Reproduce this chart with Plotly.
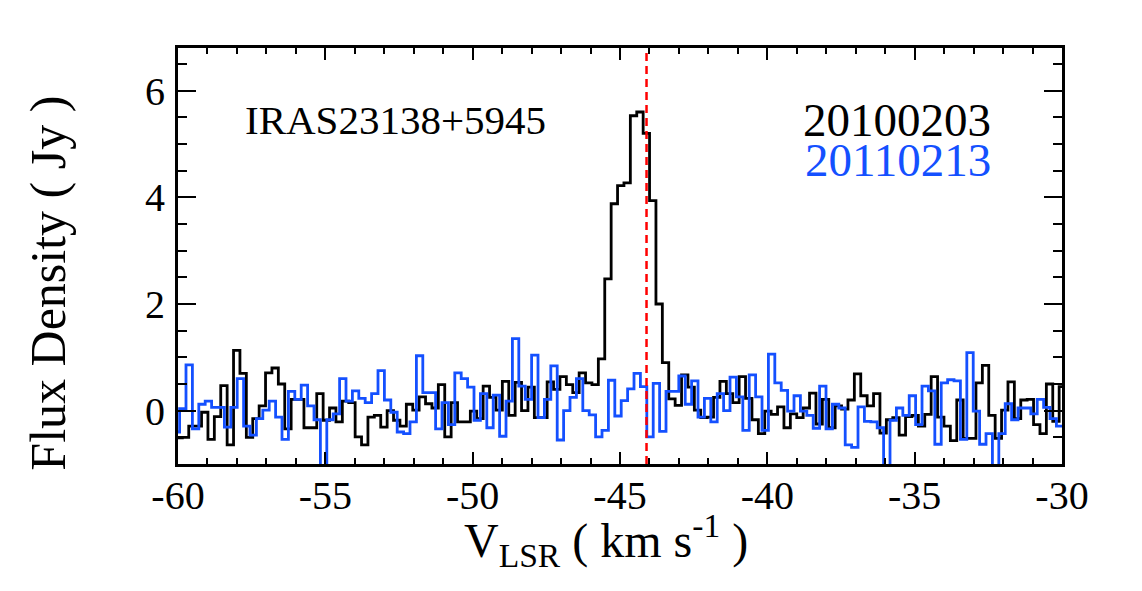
import numpy as np
from plotly import graph_objects as go

FONT_FAMILY = 'Liberation Serif, Times New Roman, serif'

# channel grid of the two spectra (km/s)
DV = 0.2172
V0_2010 = -60.07
V0_2011 = -60.163
V_SOURCE = -44.1

X_TICKS = [-60, -55, -50, -45, -40, -35, -30]
X_LABELS = ['-60', '-55', '-50', '-45', '-40', '-35', '-30']
Y_TICKS = [0, 2, 4, 6]

# 20100203 (black) flux density per channel, Jy
flux_2010 = [
    -0.51, -0.50, -0.29, -0.29, -0.03, -0.54, -0.11, 0.47, -0.64, 1.13,
    0.70, -0.50, -0.15, 0.09, 0.71, 0.80, 0.50, -0.34, 0.21, 0.21,
    -0.32, -0.32, 0.32, -0.18, 0.05, -0.21, 0.18, 0.15, -0.49, -0.64,
    -0.12, -0.09, -0.31, 0.00, -0.18, -0.29, 0.12, 0.01, 0.26, 0.13,
    0.05, 0.49, -0.49, 0.15, -0.21, -0.21, -0.01, -0.15, 0.46, 0.25,
    0.01, 0.55, -0.09, 0.53, 0.00, 0.44, -0.13, -0.13, 0.54, 0.40,
    0.64, 0.49, 0.34, 0.71, 0.52, 0.49, 0.97, 2.47, 3.88, 4.22,
    4.27, 5.53, 5.60, 5.20, 3.94, 2.00, 0.90, 0.22, 0.10, 0.67,
    0.44, 0.01, -0.13, -0.12, 0.25, 0.55, 0.32, 0.15, 0.64, 0.23,
    -0.17, -0.43, -0.01, -0.07, 0.07, -0.32, -0.06, -0.13, 0.05, 0.33,
    -0.25, 0.21, -0.32, 0.09, 0.03, 0.20, 0.69, 0.28, 0.09, 0.32,
    -0.42, -0.17, -0.13, -0.46, -0.11, -0.09, -0.29, -0.07, 0.64, -0.12,
    -0.29, -0.56, 0.20, -0.52, -0.52, 0.52, 0.85, -0.09, -0.52, 0.01,
    0.54, -0.15, 0.20, 0.21, -0.26, -0.43, 0.50, -0.20, 0.45,
]

# 20110213 (blue) flux density per channel, Jy
flux_2011 = [
    -0.40, 0.04, 0.86, -0.34, 0.12, 0.18, 0.06, 0.06, -0.31, 0.06,
    0.60, -0.29, -0.46, -0.15, 0.01, 0.18, -0.12, -0.54, 0.36, 0.21,
    0.48, 0.09, -0.17, -1.30, -0.17, -0.06, 0.60, 0.18, 0.37, 0.23,
    0.15, 0.32, 0.75, 0.20, -0.03, -0.40, -0.43, -0.21, 1.03, 0.34,
    0.34, -0.34, 0.15, -0.26, 0.71, 0.60, 0.44, -0.18, 0.32, -0.32,
    0.29, -0.48, 0.18, 1.35, 0.46, 0.21, 1.04, -0.13, 0.21, 0.84,
    -0.55, 0.00, 0.25, 0.60, 0.00, -0.08, -0.49, -0.37, 0.57, -0.10,
    0.19, 0.41, 0.70, 0.45, -0.49, 0.51, -0.39, 0.36, 0.36, 0.65,
    0.12, 0.56, -0.12, 0.23, -0.21, 0.32, 0.00, 0.63, 0.26, -0.37,
    0.67, 0.26, -0.37, 1.06, 0.52, 0.38, -0.01, 0.28, -0.01, -0.09,
    -0.33, 0.46, -0.34, 0.12, 0.05, -0.64, -0.69, 0.07, -0.20, -0.21,
    -0.32, -1.20, -0.18, 0.05, -0.09, 0.28, -0.26, 0.46, 0.37, -0.63,
    0.52, 0.58, 0.56, -0.54, 1.09, -0.01, -0.63, -0.43, -1.20, -0.43,
    0.13, -0.17, 0.05, 0.05, -0.06, 0.21, 0.06, -0.15, -0.29,
]

BLUE = '#1450ff'


def histo(v0, vals):
    # left channel edges + closing edge, drawn with hv steps
    edges = v0 + DV * np.arange(len(vals) + 1)
    return edges, list(vals) + [vals[-1]]


fig = go.Figure()

x, y = histo(V0_2010, flux_2010)
fig.add_trace(go.Scatter(x=x, y=y, mode='lines', line=dict(shape='hv', color='black', width=2.8),
                         name='20100203'))

x, y = histo(V0_2011, flux_2011)
fig.add_trace(go.Scatter(x=x, y=y, mode='lines', line=dict(shape='hv', color=BLUE, width=2.8),
                         name='20110213'))

fig.add_shape(type='line', x0=V_SOURCE, x1=V_SOURCE, y0=0, y1=1, yref='paper',
              line=dict(color='red', width=2.5, dash='8px,5px'))

axis_style = dict(
    showline=True, linecolor='black', linewidth=3, mirror='ticks',
    ticks='inside', tickcolor='black', tickwidth=2,
    showgrid=False, zeroline=False,
    tickfont=dict(family=FONT_FAMILY, size=40, color='black'),
)

fig.update_xaxes(range=[-60, -30], tickvals=X_TICKS, ticktext=X_LABELS, ticklen=12,
                 ticklabelstandoff=-6,
                 minor=dict(dtick=1, ticks='inside', ticklen=6, tickwidth=2, tickcolor='black'),
                 **axis_style)
fig.update_yaxes(range=[-1, 6.8], tickvals=Y_TICKS, ticklen=18, ticklabelstandoff=2,
                 minor=dict(dtick=0.5, tick0=0, ticks='inside', ticklen=9, tickwidth=2, tickcolor='black'),
                 **axis_style)

fig.add_annotation(x=-57.79, y=5.45, text='IRAS23138+5945', showarrow=False,
                   xanchor='left', yanchor='middle',
                   font=dict(family=FONT_FAMILY, size=41, color='black'))
fig.add_annotation(x=-32.34, y=5.45, text='20100203', showarrow=False,
                   xanchor='right', yanchor='middle',
                   font=dict(family=FONT_FAMILY, size=47, color='black'))
fig.add_annotation(x=-32.34, y=4.70, text='20110213', showarrow=False,
                   xanchor='right', yanchor='middle',
                   font=dict(family=FONT_FAMILY, size=47, color=BLUE))

fig.add_annotation(x=-0.1475, y=0.435, xref='paper', yref='paper', text='Flux Density ( Jy )',
                   textangle=-90, showarrow=False, xanchor='center', yanchor='middle',
                   font=dict(family=FONT_FAMILY, size=50, color='black'))
fig.add_annotation(x=0.484, y=-0.183, xref='paper', yref='paper',
                   text='V<sub>LSR</sub> ( km s<sup>-1</sup> )',
                   showarrow=False, xanchor='center', yanchor='middle',
                   font=dict(family=FONT_FAMILY, size=48, color='black'))

fig.update_layout(
    width=1142, height=591,
    margin=dict(l=170, r=88, t=40, b=135, pad=0),
    plot_bgcolor='white', paper_bgcolor='white',
    showlegend=False,
    font=dict(family=FONT_FAMILY),
)

fig.write_html("out.html")
